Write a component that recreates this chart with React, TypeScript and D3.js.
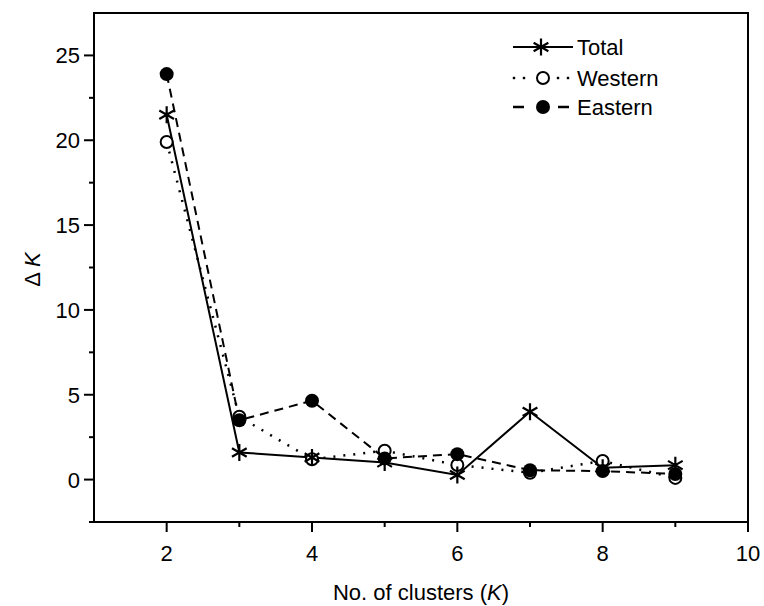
import React from "react";
import * as d3 from "d3";

const clusters = [2, 3, 4, 5, 6, 7, 8, 9];
const totalDK = [21.5, 1.6, 1.3, 1.0, 0.27, 4.0, 0.7, 0.85];
const westernDK = [19.9, 3.7, 1.2, 1.7, 0.86, 0.4, 1.1, 0.1];
const easternDK = [23.9, 3.5, 4.65, 1.25, 1.5, 0.55, 0.5, 0.33];
const xTicks = [2, 4, 6, 8, 10];
const xMinor = [3, 5, 7, 9];
const yTicks = [0, 5, 10, 15, 20, 25];
const yMinor = [-2.5, 2.5, 7.5, 12.5, 17.5, 22.5];
const legendLabels = ["Total", "Western", "Eastern"];

const W = 764;
const H = 606;
const left = 94;
const right = 748;
const top = 13;
const bottom = 522;
const font = "Liberation Sans, Arial, sans-serif";

const x = d3.scaleLinear().domain([1, 10]).range([left, right]);
const y = d3.scaleLinear().domain([-2.5, 27.5]).range([bottom, top]);

function starPath(cx: number, cy: number, r: number) {
  const parts: string[] = [];
  const angles = [90, 30, -30];
  for (const a of angles) {
    const rad = (a * Math.PI) / 180;
    const dx = r * Math.cos(rad);
    const dy = r * Math.sin(rad);
    parts.push(`M${cx - dx},${cy + dy}L${cx + dx},${cy - dy}`);
  }
  return parts.join("");
}

const line = d3
  .line<number>()
  .x((_, i) => x(clusters[i]))
  .y((d) => y(d));

export default function App() {
  const rowY = [47, 78, 107];
  return (
    <svg width={W} height={H} style={{ position: "absolute", left: 0, top: 0 }}>
      <rect x={0} y={0} width={W} height={H} fill="#fff" />
      {/* frame */}
      <rect x={left} y={top} width={right - left} height={bottom - top} fill="none" stroke="#000" strokeWidth={2} />
      {/* x ticks */}
      {xTicks.map((t) => (
        <g key={"xt" + t}>
          <line x1={x(t)} x2={x(t)} y1={bottom} y2={bottom + 10} stroke="#000" strokeWidth={2} />
          <text x={x(t)} y={bottom + 39} textAnchor="middle" fontFamily={font} fontSize={22}>
            {t}
          </text>
        </g>
      ))}
      {xMinor.map((t) => (
        <line key={"xm" + t} x1={x(t)} x2={x(t)} y1={bottom} y2={bottom + 5} stroke="#000" strokeWidth={2} />
      ))}
      {/* y ticks */}
      {yTicks.map((t) => (
        <g key={"yt" + t}>
          <line x1={left - 10} x2={left} y1={y(t)} y2={y(t)} stroke="#000" strokeWidth={2} />
          <text x={left - 14} y={y(t) + 8} textAnchor="end" fontFamily={font} fontSize={22}>
            {t}
          </text>
        </g>
      ))}
      {yMinor.map((t) => (
        <line key={"ym" + t} x1={left - 5} x2={left} y1={y(t)} y2={y(t)} stroke="#000" strokeWidth={2} />
      ))}
      {/* axis titles */}
      <text x={(left + right) / 2} y={600} textAnchor="middle" fontFamily={font} fontSize={22}>
        No. of clusters (<tspan fontStyle="italic">K</tspan>)
      </text>
      <text
        transform={`translate(40, ${(top + bottom) / 2 + 2}) rotate(-90)`}
        textAnchor="middle"
        fontFamily={font}
        fontSize={22}
      >
        Δ <tspan fontStyle="italic">K</tspan>
      </text>
      {/* series lines */}
      <path d={line(totalDK) || ""} fill="none" stroke="#000" strokeWidth={2} />
      <path d={line(westernDK) || ""} fill="none" stroke="#000" strokeWidth={2.5} strokeDasharray="2 8" />
      <path d={line(easternDK) || ""} fill="none" stroke="#000" strokeWidth={2} strokeDasharray="9 6" />
      {/* markers */}
      {westernDK.map((v, i) => (
        <circle key={"w" + i} cx={x(clusters[i])} cy={y(v)} r={6} fill="#fff" stroke="#000" strokeWidth={2} />
      ))}
      {totalDK.map((v, i) => (
        <path key={"t" + i} d={starPath(x(clusters[i]), y(v), 8.5)} stroke="#000" strokeWidth={2.2} fill="none" />
      ))}
      {easternDK.map((v, i) => (
        <circle key={"e" + i} cx={x(clusters[i])} cy={y(v)} r={7} fill="#000" />
      ))}
      {/* legend */}
      <g>
        <line x1={513} x2={573} y1={rowY[0]} y2={rowY[0]} stroke="#000" strokeWidth={2} />
        <path d={starPath(541, rowY[0], 8.5)} stroke="#000" strokeWidth={2.2} fill="none" />

        {[514, 524, 558, 568].map((dx) => (
          <rect key={"wd" + dx} x={dx - 1.2} y={rowY[1] - 1.2} width={2.4} height={2.4} fill="#000" />
        ))}
        <circle cx={543} cy={rowY[1]} r={6} fill="#fff" stroke="#000" strokeWidth={2} />

        <line x1={513} x2={524} y1={rowY[2]} y2={rowY[2]} stroke="#000" strokeWidth={2.5} />
        <line x1={558} x2={569} y1={rowY[2]} y2={rowY[2]} stroke="#000" strokeWidth={2.5} />
        <circle cx={543} cy={rowY[2]} r={7} fill="#000" />

        {legendLabels.map((lab, i) => (
          <text key={lab} x={577} y={rowY[i] + 8} fontFamily={font} fontSize={22}>
            {lab}
          </text>
        ))}
      </g>
    </svg>
  );
}
